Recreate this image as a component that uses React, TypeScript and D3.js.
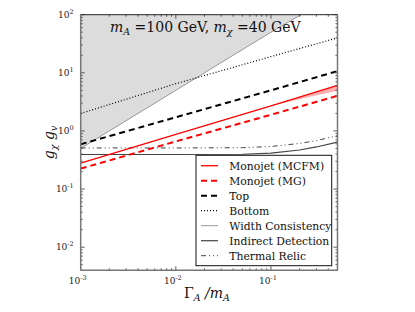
import React from "react";
import * as d3 from "d3";

const W = 415, H = 312;
const M = { left: 80.7, right: 337.5, top: 14.7, bottom: 270.3 };

const xDomain = [0.001, 0.5];
const yDomain = [0.004, 100];
const xTicks = [0.001, 0.01, 0.1];
const xTickExp = ["-3", "-2", "-1"];
const yTicks = [0.01, 0.1, 1, 10, 100];
const yTickExp = ["-2", "-1", "0", "1", "2"];

const widthX = [0.001, 0.01, 0.1, 0.207];
const widthY = [0.5, 5, 50, 100];
const bottomX = [0.001, 0.01, 0.1, 0.5];
const bottomY = [2.0, 6.5, 19, 40];
const topX = [0.001, 0.01, 0.1, 0.5];
const topY = [0.59, 1.72, 5.0, 10.7];
const mcfmX = [0.001, 0.01, 0.1, 0.5];
const mcfmY = [0.278, 0.87, 2.7, 6.07];
const mgX = [0.001, 0.01, 0.1, 0.5];
const mgY = [0.225, 0.66, 1.9, 4.02];
const bandX = [0.1, 0.2, 0.3, 0.5];
const bandHi = [2.7, 3.8, 4.65, 6.07];
const bandLo = [2.7, 3.5, 4.1, 4.9];
const indirX = [0.001, 0.01, 0.05, 0.1, 0.2, 0.3, 0.5];
const indirY = [0.393, 0.393, 0.397, 0.415, 0.47, 0.53, 0.64];
const relicX = [0.001, 0.01, 0.05, 0.1, 0.2, 0.3, 0.5];
const relicY = [0.51, 0.51, 0.515, 0.54, 0.61, 0.68, 0.83];

const legendLabels = [
  "Monojet (MCFM)",
  "Monojet (MG)",
  "Top",
  "Bottom",
  "Width Consistency",
  "Indirect Detection",
  "Thermal Relic",
];

const FONT = "'DejaVu Serif', serif";

export default function App() {
  const x = d3.scaleLog().domain(xDomain).range([M.left, M.right]);
  const y = d3.scaleLog().domain(yDomain).range([M.bottom, M.top]);
  const line = (xs: number[], ys: number[]) =>
    d3.line<number>().x((_, i) => x(xs[i])).y((d) => y(d))(ys) || "";

  const widthArea =
    d3
      .area<number>()
      .x((_, i) => x(widthX[i]))
      .y0((d) => y(d))
      .y1(() => M.top)(widthY) || "";
  const shadeLeft = `M${M.left},${y(widthY[0])}L${M.left},${M.top}`;
  const band =
    d3
      .area<number>()
      .x((_, i) => x(bandX[i]))
      .y0((_, i) => y(bandLo[i]))
      .y1((d) => y(d))(bandHi) || "";

  const styles = [
    { stroke: "#ff0000", sw: 1.3, dash: "" },
    { stroke: "#ff0000", sw: 2, dash: "6,4" },
    { stroke: "#000000", sw: 2, dash: "6,4" },
    { stroke: "#000000", sw: 1.2, dash: "1,2" },
    { stroke: "#999999", sw: 1, dash: "" },
    { stroke: "#444444", sw: 1.2, dash: "" },
    { stroke: "#444444", sw: 1, dash: "5,3,1,3,1,3" },
  ];

  const minorX: number[] = [];
  for (let e = -3; e <= -1; e++)
    for (let k = 2; k <= 9; k++) {
      const v = k * Math.pow(10, e);
      if (v <= xDomain[1]) minorX.push(v);
    }
  const minorY: number[] = [];
  for (let e = -3; e <= 1; e++)
    for (let k = 2; k <= 9; k++) {
      const v = k * Math.pow(10, e);
      if (v >= yDomain[0] && v <= yDomain[1]) minorY.push(v);
    }

  const lg = { x: 196, y: 155.3, w: 135.7, h: 110.4 };

  return (
    <svg
      width={W}
      height={H}
      style={{ position: "absolute", left: 0, top: 0, background: "#fff" }}
      fontFamily={FONT}
    >
      <defs>
        <clipPath id="plot">
          <rect x={M.left} y={M.top} width={M.right - M.left} height={M.bottom - M.top} />
        </clipPath>
      </defs>
      <g clipPath="url(#plot)">
        <path d={shadeLeft + widthArea.replace(/^M/, "L")} fill="#dcdcdc" stroke="none" />
        <path d={widthArea} fill="#dcdcdc" stroke="none" />
        <path d={band} fill="#ff9999" opacity={0.8} stroke="none" />
        <path d={line(widthX, widthY)} fill="none" stroke={styles[4].stroke} strokeWidth={styles[4].sw} />
        <path d={line(bottomX, bottomY)} fill="none" stroke={styles[3].stroke} strokeWidth={styles[3].sw} strokeDasharray={styles[3].dash} />
        <path d={line(topX, topY)} fill="none" stroke={styles[2].stroke} strokeWidth={styles[2].sw} strokeDasharray={styles[2].dash} />
        <path d={line(indirX, indirY)} fill="none" stroke={styles[5].stroke} strokeWidth={styles[5].sw} />
        <path d={line(relicX, relicY)} fill="none" stroke={styles[6].stroke} strokeWidth={styles[6].sw} strokeDasharray={styles[6].dash} />
        <path d={line(mcfmX, mcfmY)} fill="none" stroke={styles[0].stroke} strokeWidth={styles[0].sw} />
        <path d={line(mgX, mgY)} fill="none" stroke={styles[1].stroke} strokeWidth={styles[1].sw} strokeDasharray={styles[1].dash} />
      </g>

      {/* ticks */}
      <g stroke="#333" strokeWidth={0.8}>
        {xTicks.map((t) => (
          <g key={"xt" + t}>
            <line x1={x(t)} x2={x(t)} y1={M.bottom} y2={M.bottom - 4} />
            <line x1={x(t)} x2={x(t)} y1={M.top} y2={M.top + 4} />
          </g>
        ))}
        {minorX.map((t) => (
          <g key={"xm" + t}>
            <line x1={x(t)} x2={x(t)} y1={M.bottom} y2={M.bottom - 2} />
            <line x1={x(t)} x2={x(t)} y1={M.top} y2={M.top + 2} />
          </g>
        ))}
        {yTicks.map((t) => (
          <g key={"yt" + t}>
            <line x1={M.left} x2={M.left + 4} y1={y(t)} y2={y(t)} />
            <line x1={M.right} x2={M.right - 4} y1={y(t)} y2={y(t)} />
          </g>
        ))}
        {minorY.map((t) => (
          <g key={"ym" + t}>
            <line x1={M.left} x2={M.left + 2} y1={y(t)} y2={y(t)} />
            <line x1={M.right} x2={M.right - 2} y1={y(t)} y2={y(t)} />
          </g>
        ))}
      </g>

      {/* frame */}
      <line x1={M.left} x2={M.right} y1={M.top} y2={M.top} stroke="#222" strokeWidth={1} />
      <line x1={M.left} x2={M.left} y1={M.top} y2={M.bottom} stroke="#777" strokeWidth={1.5} />
      <line x1={M.right} x2={M.right} y1={M.top} y2={M.bottom} stroke="#777" strokeWidth={1.5} />
      <line x1={M.left} x2={M.right} y1={M.bottom} y2={M.bottom} stroke="#777" strokeWidth={1.5} />

      {/* tick labels */}
      {xTicks.map((t, i) => (
        <text key={"xl" + t} x={x(t) - 3} y={M.bottom + 14} fontSize={9} textAnchor="middle" fill="#222">
          10
          <tspan dy={-4} fontSize={6.5}>{xTickExp[i]}</tspan>
        </text>
      ))}
      {yTicks.map((t, i) => (
        <text key={"yl" + t} x={M.left - 7} y={y(t) + 3} fontSize={9} textAnchor="end" fill="#222">
          10
          <tspan dy={-4} fontSize={6.5}>{yTickExp[i]}</tspan>
        </text>
      ))}

      {/* title */}
      <text x={110} y={32} fontSize={14} fill="#111">
        <tspan fontStyle="italic">m</tspan>
        <tspan fontStyle="italic" fontSize={9.5} dy={3}>A</tspan>
        <tspan dy={-3}> =100 GeV, </tspan>
        <tspan fontStyle="italic">m</tspan>
        <tspan fontStyle="italic" fontSize={9.5} dy={3}>χ</tspan>
        <tspan dy={-3}> =40 GeV</tspan>
      </text>

      {/* axis labels */}
      <text x={207} y={298} fontSize={14} textAnchor="middle" fill="#111">
        Γ
        <tspan fontStyle="italic" fontSize={9.5} dy={3}>A</tspan>
        <tspan dy={-3} fontStyle="italic"> /m</tspan>
        <tspan fontStyle="italic" fontSize={9.5} dy={3}>A</tspan>
      </text>
      <text transform={`translate(54,${(M.top + M.bottom) / 2}) rotate(-90)`} fontSize={14} textAnchor="middle" fill="#111" fontStyle="italic">
        g
        <tspan fontSize={9.5} dy={3}>χ</tspan>
        <tspan dy={-3}> g</tspan>
        <tspan fontSize={9.5} dy={3}>v</tspan>
      </text>

      {/* legend */}
      <rect x={lg.x} y={lg.y} width={lg.w} height={lg.h} fill="#fff" stroke="#111" strokeWidth={1} />
      {legendLabels.map((lab, i) => {
        const cy = 165.7 + i * 15;
        const s = styles[i];
        return (
          <g key={lab}>
            <line x1={201} x2={218} y1={cy} y2={cy} stroke={s.stroke} strokeWidth={s.sw} strokeDasharray={s.dash} />
            <text x={229.3} y={cy + 3.8} fontSize={10.8} fill="#111">{lab}</text>
          </g>
        );
      })}
    </svg>
  );
}
